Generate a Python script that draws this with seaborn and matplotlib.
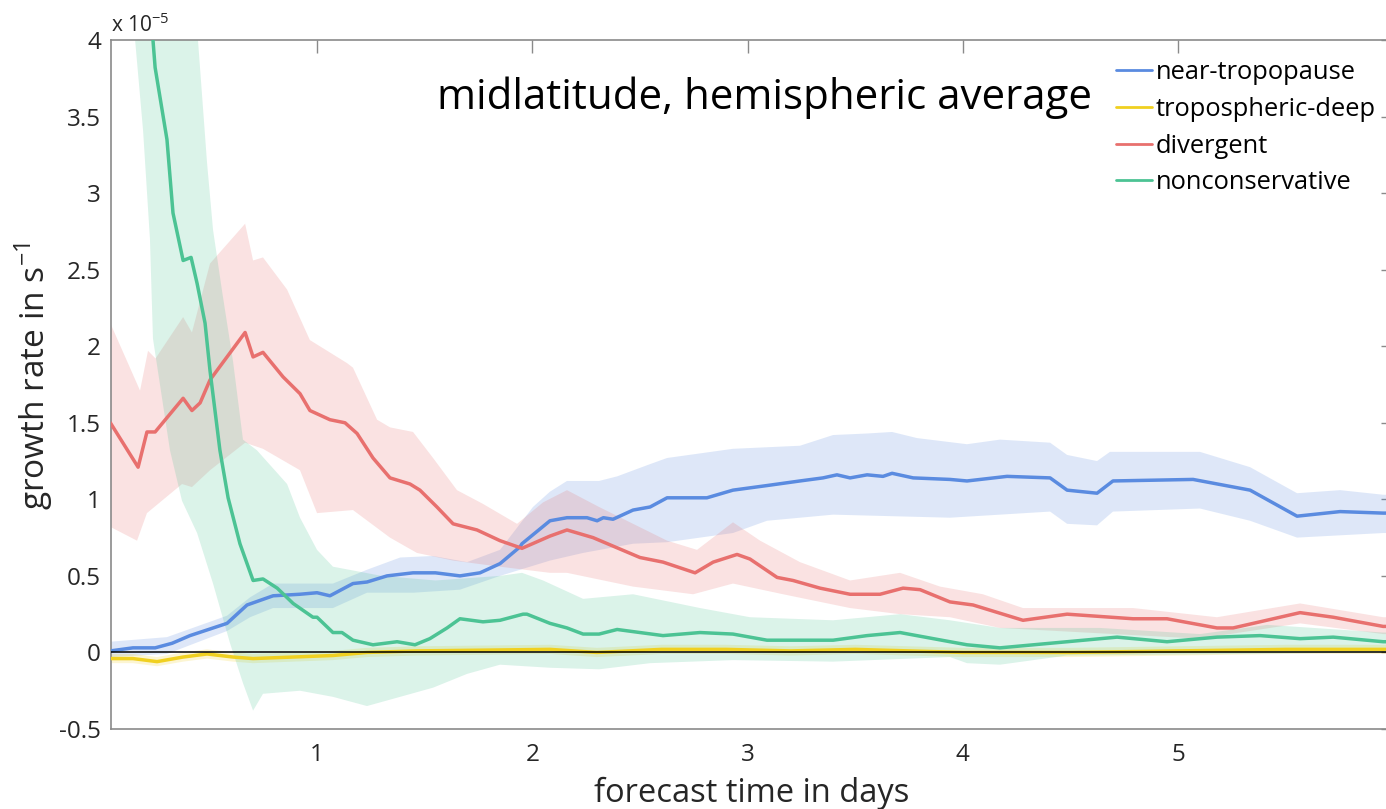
import numpy as np
import pandas as pd
import matplotlib
matplotlib.use("Agg")
import matplotlib.pyplot as plt
import seaborn as sns

# growth rates in units of 1e-5 s^-1, forecast time in days

# near-tropopause
tropo_t = [0.04, 0.145, 0.248, 0.327, 0.410, 0.582, 0.675, 0.796, 0.92, 1.000, 1.060, 1.167, 1.232,
           1.325, 1.446, 1.55, 1.664, 1.757, 1.850, 1.943, 1.952, 2.082, 2.161, 2.254, 2.301, 2.33,
           2.375, 2.468, 2.547, 2.626, 2.811, 2.932, 3.090, 3.243, 3.350, 3.415, 3.476, 3.555, 3.629,
           3.671, 3.769, 3.940, 4.019, 4.205, 4.405, 4.484, 4.623, 4.697, 5.069, 5.334, 5.552, 5.752,
           5.952, 6.0]
tropo_v = [0.01, 0.03, 0.03, 0.06, 0.11, 0.19, 0.31, 0.37, 0.38, 0.39, 0.37, 0.45, 0.46,
           0.50, 0.52, 0.52, 0.50, 0.52, 0.58, 0.69, 0.71, 0.86, 0.88, 0.88, 0.86, 0.88,
           0.87, 0.93, 0.95, 1.01, 1.01, 1.06, 1.09, 1.12, 1.14, 1.16, 1.14, 1.16, 1.15,
           1.17, 1.14, 1.13, 1.12, 1.15, 1.14, 1.06, 1.04, 1.12, 1.13, 1.06, 0.89, 0.92,
           0.91, 0.91]
tropo_up_t = [0.04, 0.303, 0.582, 0.689, 0.796, 1.074, 1.232, 1.386, 1.539, 1.697, 1.850, 2.003,
              2.082, 2.161, 2.310, 2.394, 2.547, 2.626, 2.932, 3.243, 3.397, 3.555, 3.671, 3.787,
              4.019, 4.172, 4.405, 4.484, 4.623, 4.683, 5.101, 5.334, 5.552, 5.752, 5.952, 6.0]
tropo_up_v = [0.07, 0.10, 0.24, 0.36, 0.45, 0.45, 0.54, 0.62, 0.63, 0.59, 0.67, 0.95,
              1.05, 1.12, 1.12, 1.15, 1.23, 1.27, 1.33, 1.35, 1.42, 1.43, 1.44, 1.40,
              1.36, 1.39, 1.37, 1.29, 1.25, 1.31, 1.31, 1.21, 1.04, 1.06, 1.03, 1.03]
tropo_lo_t = [0.04, 0.303, 0.582, 0.689, 0.796, 1.074, 1.232, 1.446, 1.664, 1.850, 2.082, 2.236,
              2.468, 2.626, 2.932, 3.090, 3.397, 3.940, 4.405, 4.484, 4.623, 4.697, 5.101, 5.334,
              5.552, 5.952, 6.0]
tropo_lo_v = [-0.03, -0.01, 0.14, 0.23, 0.29, 0.29, 0.39, 0.39, 0.41, 0.50, 0.60, 0.65,
              0.71, 0.72, 0.78, 0.86, 0.90, 0.88, 0.92, 0.84, 0.83, 0.92, 0.94, 0.86,
              0.75, 0.78, 0.78]

# tropospheric-deep
deep_t = [0.04, 0.145, 0.257, 0.378, 0.489, 0.610, 0.703, 1.074, 1.232, 1.464, 2.082, 2.30,
          2.6, 2.9, 3.2, 3.5, 4.0, 4.5, 5.0, 5.5, 6.0]
deep_v = [-0.04, -0.04, -0.06, -0.03, -0.01, -0.03, -0.04, -0.02, 0.00, 0.01, 0.02, 0.00,
          0.02, 0.02, 0.01, 0.02, 0.00, 0.00, 0.01, 0.02, 0.02]
deep_up = [-0.01, -0.01, -0.03, 0.00, 0.02, 0.00, -0.01, 0.01, 0.03, 0.04, 0.05, 0.03,
           0.05, 0.05, 0.04, 0.05, 0.03, 0.03, 0.04, 0.05, 0.05]
deep_lo = [-0.07, -0.07, -0.09, -0.06, -0.04, -0.06, -0.07, -0.05, -0.03, -0.02, -0.01, -0.03,
           -0.01, -0.01, -0.02, -0.01, -0.03, -0.03, -0.02, -0.01, -0.01]

# divergent
div_t = [0.04, 0.169, 0.210, 0.248, 0.378, 0.419, 0.457, 0.503, 0.666, 0.703, 0.749, 0.842,
         0.921, 0.967, 1.060, 1.130, 1.186, 1.260, 1.339, 1.432, 1.478, 1.557, 1.632, 1.743,
         1.850, 1.952, 2.082, 2.161, 2.282, 2.500, 2.607, 2.756, 2.840, 2.951, 3.011, 3.137,
         3.211, 3.336, 3.476, 3.615, 3.722, 3.801, 3.940, 4.047, 4.279, 4.484, 4.790, 4.948,
         5.180, 5.255, 5.566, 5.720, 5.952, 6.0]
div_v = [1.50, 1.21, 1.44, 1.44, 1.66, 1.58, 1.63, 1.78, 2.09, 1.93, 1.96, 1.80,
         1.69, 1.58, 1.52, 1.50, 1.43, 1.27, 1.14, 1.10, 1.06, 0.95, 0.84, 0.80,
         0.73, 0.68, 0.76, 0.80, 0.75, 0.62, 0.59, 0.52, 0.59, 0.64, 0.61, 0.49,
         0.47, 0.42, 0.38, 0.38, 0.42, 0.41, 0.33, 0.31, 0.21, 0.25, 0.22, 0.22,
         0.16, 0.16, 0.26, 0.23, 0.17, 0.17]
div_up_t = [0.04, 0.178, 0.215, 0.25, 0.378, 0.419, 0.503, 0.666, 0.703, 0.749, 0.861, 0.954,
            0.967, 1.139, 1.167, 1.279, 1.339, 1.446, 1.539, 1.650, 1.771, 1.929, 2.05, 2.161,
            2.310, 2.626, 2.765, 2.932, 3.058, 3.243, 3.476, 3.708, 3.894, 4.093, 4.279, 4.790,
            5.180, 5.566, 5.952, 6.0]
div_up_v = [2.15, 1.71, 1.97, 1.92, 2.19, 2.09, 2.54, 2.80, 2.56, 2.58, 2.37, 2.08,
            2.04, 1.89, 1.86, 1.52, 1.47, 1.44, 1.27, 1.06, 0.97, 0.84, 0.98, 1.06,
            0.95, 0.73, 0.67, 0.85, 0.73, 0.59, 0.47, 0.52, 0.43, 0.38, 0.29, 0.29,
            0.23, 0.32, 0.23, 0.23]
div_lo_t = [0.04, 0.164, 0.210, 0.373, 0.419, 0.503, 0.666, 0.749, 0.921, 1.000, 1.167, 1.339,
            1.464, 1.632, 1.850, 2.082, 2.161, 2.468, 2.747, 2.932, 3.165, 3.476, 3.708, 3.94,
            4.172, 5.101, 5.566, 5.952, 6.0]
div_lo_v = [0.82, 0.73, 0.91, 1.10, 1.08, 1.19, 1.37, 1.33, 1.19, 0.91, 0.93, 0.75,
            0.65, 0.60, 0.56, 0.52, 0.52, 0.43, 0.38, 0.45, 0.38, 0.29, 0.25, 0.23,
            0.16, 0.09, 0.19, 0.12, 0.12]

# nonconservative
noncons_t = [0.04, 0.238, 0.248, 0.303, 0.331, 0.378, 0.415, 0.443, 0.480, 0.503, 0.549, 0.587,
             0.642, 0.703, 0.749, 0.815, 0.889, 0.981, 1.000, 1.074, 1.116, 1.167, 1.260, 1.372,
             1.455, 1.524, 1.604, 1.664, 1.771, 1.850, 1.957, 1.975, 2.082, 2.161, 2.236, 2.310,
             2.394, 2.500, 2.607, 2.779, 2.932, 3.090, 3.243, 3.397, 3.555, 3.708, 3.94, 4.019,
             4.172, 4.484, 4.716, 4.948, 5.180, 5.380, 5.566, 5.720, 5.952, 6.0]
noncons_v = [5.80, 4.00, 3.82, 3.35, 2.87, 2.56, 2.58, 2.41, 2.15, 1.84, 1.32, 1.01,
             0.71, 0.47, 0.48, 0.42, 0.32, 0.23, 0.23, 0.13, 0.13, 0.08, 0.05, 0.07,
             0.05, 0.09, 0.16, 0.22, 0.20, 0.21, 0.25, 0.25, 0.19, 0.16, 0.12, 0.12,
             0.15, 0.13, 0.11, 0.13, 0.12, 0.08, 0.08, 0.08, 0.11, 0.13, 0.07, 0.05,
             0.03, 0.07, 0.10, 0.07, 0.10, 0.11, 0.09, 0.10, 0.07, 0.07]
noncons_up_t = [0.04, 0.30, 0.447, 0.489, 0.517, 0.56, 0.610, 0.656, 0.721, 0.861, 0.921, 1.000,
                1.074, 1.30, 1.55, 1.85, 1.952, 2.050, 2.236, 2.468, 2.779, 3.011, 3.397, 3.708,
                3.94, 4.172, 4.637, 5.101, 5.413, 5.952, 6.0]
noncons_up_v = [8.00, 7.00, 4.00, 3.20, 2.76, 2.35, 1.90, 1.39, 1.32, 1.10, 0.88, 0.67,
                0.56, 0.50, 0.47, 0.50, 0.52, 0.47, 0.35, 0.38, 0.29, 0.23, 0.21, 0.25,
                0.21, 0.16, 0.16, 0.12, 0.18, 0.13, 0.13]
noncons_lo_t = [0.04, 0.145, 0.155, 0.192, 0.224, 0.238, 0.317, 0.373, 0.443, 0.517, 0.596, 0.656,
                0.703, 0.749, 0.921, 1.074, 1.232, 1.386, 1.539, 1.697, 1.850, 2.082, 2.310, 2.547,
                2.932, 3.397, 3.94, 4.019, 4.172, 4.484, 5.255, 5.952, 6.0]
noncons_lo_v = [4.50, 4.05, 4.00, 3.41, 2.70, 2.05, 1.32, 0.99, 0.78, 0.45, 0.06, -0.20,
                -0.38, -0.27, -0.25, -0.29, -0.35, -0.29, -0.23, -0.14, -0.08, -0.10, -0.11, -0.07,
                -0.05, -0.06, -0.03, -0.07, -0.08, -0.02, -0.01, 0.00, 0.00]

labels = ["near-tropopause", "tropospheric-deep", "divergent", "nonconservative"]
colors = ["#5a8be0", "#f0d020", "#e8706e", "#4cc394"]

x_ticks = [1, 2, 3, 4, 5]
y_ticks = [-0.5, 0, 0.5, 1, 1.5, 2, 2.5, 3, 3.5, 4]
y_ticklabels = ["-0.5", "0", "0.5", "1", "1.5", "2", "2.5", "3", "3.5", "4"]

sns.set_style("white")
plt.rcParams["font.family"] = ["Open Sans", "DejaVu Sans"]

fig = plt.figure(figsize=(13.86, 8.09), dpi=100)
ax = fig.add_axes([110.7 / 1386, 80 / 809, (1393.5 - 110.7) / 1386, 689 / 809])

series = [
    (tropo_t, tropo_v, tropo_up_t, tropo_up_v, tropo_lo_t, tropo_lo_v),
    (deep_t, deep_v, deep_t, deep_up, deep_t, deep_lo),
    (div_t, div_v, div_up_t, div_up_v, div_lo_t, div_lo_v),
    (noncons_t, noncons_v, noncons_up_t, noncons_up_v, noncons_lo_t, noncons_lo_v),
]

# spread bands first
for (t, v, tu, vu, tl, vl), c in zip(series, colors):
    px = np.r_[np.asarray(tu), np.asarray(tl)[::-1]]
    py = np.r_[np.asarray(vu), np.asarray(vl)[::-1]]
    ax.fill(px, py, color=c, alpha=0.2, lw=0, zorder=1)

ax.axhline(0, color="black", lw=1.1, zorder=4)

for (t, v, *_), c, lab in zip(series, colors, labels):
    df = pd.DataFrame({"t": t, "v": v})
    sns.lineplot(data=df, x="t", y="v", color=c, lw=2.5, label=lab, ax=ax,
                 estimator=None, sort=False, zorder=3)

ax.set_xlim(1 / 24, 6)
ax.set_ylim(-0.5, 4)
ax.set_xticks(x_ticks)
ax.set_xticklabels([str(x) for x in x_ticks])
ax.set_yticks(y_ticks)
ax.set_yticklabels(y_ticklabels)
ax.set_xlabel("")
ax.set_ylabel("")

for s in ax.spines.values():
    s.set_color("#8a8a8a")
    s.set_linewidth(1.2)
ax.tick_params(axis="both", which="both", direction="in", length=9, width=1.0,
               color="#8a8a8a", labelcolor="#262626", labelsize=17.5,
               top=True, right=True)
ax.tick_params(axis="x", pad=10)
ax.tick_params(axis="y", pad=7)

ax.text(0.0, 1.004, r"x 10$^{\mathregular{-5}}$", transform=ax.transAxes, fontsize=15,
        color="#262626", ha="left", va="bottom")

ax.text(1.557, 3.62, "midlatitude, hemispheric average", fontsize=30.3,
        color="black", ha="left", va="center")

fig.text(752 / 1386, 1 - 802 / 809, "forecast time in days", fontsize=23.5,
         color="#262626", ha="center", va="baseline")
fig.text(34 / 1386, 1 - 376 / 809, r"growth rate in s$^{\mathregular{-1}}$", fontsize=24,
         color="#262626", ha="center", va="center", rotation=90)

leg = ax.legend(loc="upper left", bbox_to_anchor=(1116 / 1386, 1 - 60 / 809),
                bbox_transform=fig.transFigure, frameon=False,
                prop={"size": 18.4}, labelcolor="black",
                handlelength=1.4, handletextpad=0.15, labelspacing=0.46,
                borderpad=0, borderaxespad=0)
for h in leg.get_lines():
    h.set_linewidth(2.0)

fig.savefig("out.png", dpi=100)
